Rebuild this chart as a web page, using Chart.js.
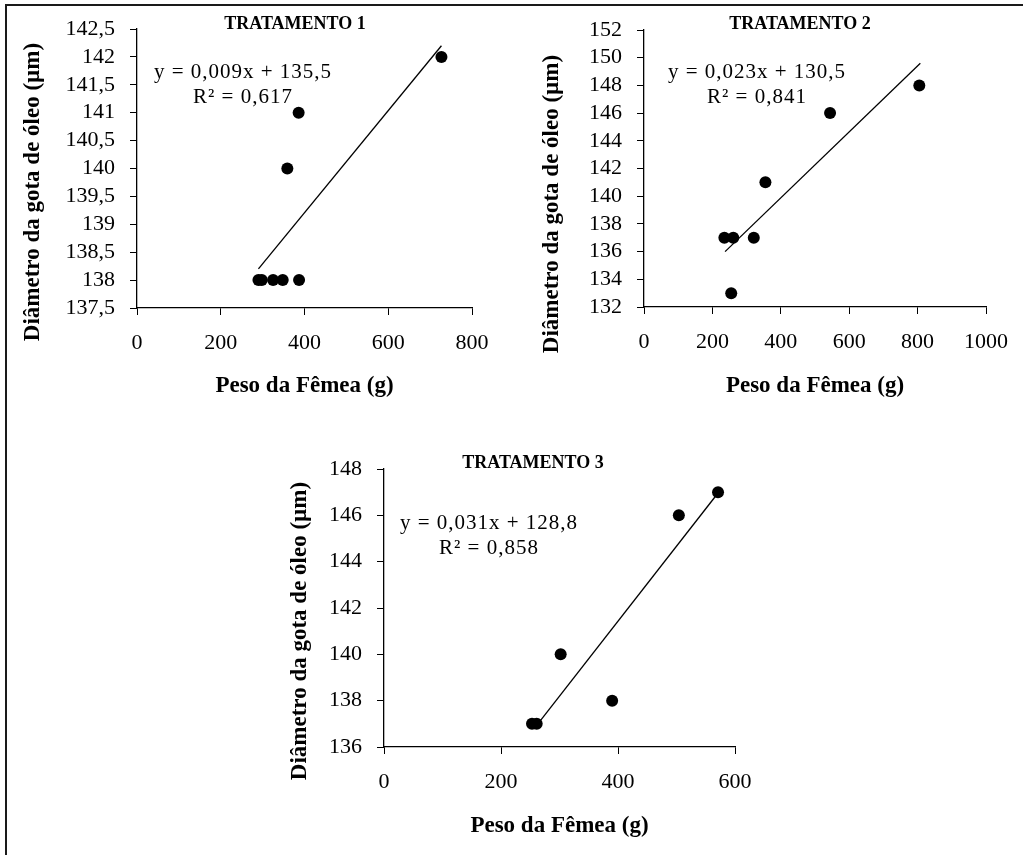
<!DOCTYPE html>
<html lang="pt">
<head>
<meta charset="UTF-8">
<title>Diâmetro da gota de óleo x Peso da Fêmea</title>
<script src="https://cdn.jsdelivr.net/npm/chart.js"></script>
<style>
    body { margin: 0; background: #fff; width: 1023px; height: 855px; overflow: hidden; position: relative; }
    .moldura { position: absolute; left: 5px; top: 4px; width: 1100px; height: 900px;
               border-left: 2px solid #1a1a1a; border-top: 2px solid #1a1a1a; }
    canvas { position: absolute; }
</style>
</head>
<body>
<div class="moldura"></div>
<canvas id="chart1" style="left:0;top:0" width="510" height="420"></canvas>
<canvas id="chart2" style="left:510px;top:0" width="513" height="420"></canvas>
<canvas id="chart3" style="left:200px;top:430px" width="600" height="425"></canvas>

<script>
    // Tratamento 1
    const peso1 = [290, 298, 325, 348, 387, 359, 386, 727];
    const diam1 = [138, 138, 138, 138, 138, 140, 141, 142];
    const tend1X = [290, 727];
    const tend1Y = [138.2, 142.2];
    const xTicks1 = [0, 200, 400, 600, 800];
    const yTicks1 = [137.5, 138, 138.5, 139, 139.5, 140, 140.5, 141, 141.5, 142, 142.5];

    // Tratamento 2
    const peso2 = [235, 261, 321, 255, 355, 544, 805];
    const diam2 = [137, 137, 137, 133, 141, 146, 148];
    const tend2X = [237, 808];
    const tend2Y = [136.0, 149.6];
    const xTicks2 = [0, 200, 400, 600, 800, 1000];
    const yTicks2 = [132, 134, 136, 138, 140, 142, 144, 146, 148, 150, 152];

    // Tratamento 3
    const peso3 = [253, 261, 302, 390, 504, 571];
    const diam3 = [137, 137, 140, 138, 146, 147];
    const tend3X = [263, 569];
    const tend3Y = [137.0, 146.9];
    const xTicks3 = [0, 200, 400, 600];
    const yTicks3 = [136, 138, 140, 142, 144, 146, 148];

    const serif = '"Liberation Serif", "Times New Roman", serif';
    const yTitulo = 'Diâmetro da gota de óleo (µm)';
    const xTitulo = 'Peso da Fêmea (g)';

    function virgula(v) {
        return String(v).replace('.', ',');
    }

    // textos soltos: titulo do grafico, equacao e titulo do eixo y
    function textPlugin(items) {
        return {
            id: 'textos',
            afterDraw(chart) {
                const ctx = chart.ctx;
                ctx.save();
                ctx.fillStyle = '#000';
                ctx.textAlign = 'center';
                ctx.textBaseline = 'middle';
                items.forEach(t => {
                    ctx.save();
                    ctx.font = t.font;
                    ctx.letterSpacing = t.spacing || '0px';
                    ctx.translate(t.x, t.y);
                    if (t.rot) ctx.rotate(t.rot);
                    ctx.fillText(t.text, 0, 0);
                    ctx.restore();
                });
                ctx.restore();
            }
        };
    }

    function drawChart(id, c) {
        const pontos = c.peso.map((x, i) => ({x: x, y: c.diam[i]}));
        const linha = c.tendX.map((x, i) => ({x: x, y: c.tendY[i]}));
        const tickFont = {family: serif, size: 22};
        const titleFont = {family: serif, size: 23, weight: 'bold'};

        return new Chart(document.getElementById(id), {
            type: 'scatter',
            data: {
                datasets: [{
                    data: pontos,
                    pointRadius: 6,
                    pointBackgroundColor: '#000',
                    pointBorderColor: '#000',
                    pointBorderWidth: 0,
                    clip: false
                }, {
                    type: 'line',
                    data: linha,
                    borderColor: '#000',
                    borderWidth: 1.3,
                    pointRadius: 0,
                    fill: false,
                    clip: false
                }]
            },
            options: {
                responsive: false,
                animation: false,
                events: [],
                layout: {padding: c.pad},
                plugins: {legend: {display: false}, tooltip: {enabled: false}},
                scales: {
                    x: {
                        type: 'linear',
                        min: c.xTicks[0],
                        max: c.xTicks[c.xTicks.length - 1],
                        afterBuildTicks: s => { s.ticks = c.xTicks.map(v => ({value: v})); },
                        afterFit: s => { s.height = c.xHeight; },
                        grid: {drawOnChartArea: false, color: '#000', tickLength: 7},
                        border: {color: '#000', width: 1.3},
                        ticks: {color: '#000', font: tickFont, padding: 15, maxRotation: 0,
                                autoSkip: false, callback: virgula},
                        title: {display: true, text: xTitulo, color: '#000', font: titleFont,
                                padding: {top: 0, bottom: c.xTitlePad}}
                    },
                    y: {
                        type: 'linear',
                        min: c.yTicks[0],
                        max: c.yTicks[c.yTicks.length - 1],
                        afterBuildTicks: s => { s.ticks = c.yTicks.map(v => ({value: v})); },
                        afterFit: s => { s.width = c.yWidth; },
                        grid: {drawOnChartArea: false, color: '#000', tickLength: 7},
                        border: {color: '#000', width: 1.3},
                        ticks: {color: '#000', font: tickFont, padding: 15, autoSkip: false, callback: virgula}
                    }
                }
            },
            plugins: [textPlugin([
                {text: c.titulo, x: c.tituloPos[0], y: c.tituloPos[1], font: 'bold 18px ' + serif},
                {text: c.eq, x: c.eqPos[0], y: c.eqPos[1], font: '21px ' + serif, spacing: '1px'},
                {text: c.r2, x: c.eqPos[0], y: c.eqPos[1] + 25, font: '21px ' + serif, spacing: '1px'},
                {text: yTitulo, x: c.yTitlePos[0], y: c.yTitlePos[1], rot: -Math.PI / 2, font: 'bold 23px ' + serif}
            ])]
        });
    }

    drawChart('chart1', {
        peso: peso1, diam: diam1, tendX: tend1X, tendY: tend1Y, xTicks: xTicks1, yTicks: yTicks1,
        pad: {top: 29, right: 38, left: 0, bottom: 0}, yWidth: 137, xHeight: 112, xTitlePad: 20,
        titulo: 'TRATAMENTO 1', tituloPos: [295, 24],
        eq: 'y = 0,009x + 135,5', r2: 'R² = 0,617', eqPos: [243, 72],
        yTitlePos: [33, 192]
    });

    drawChart('chart2', {
        peso: peso2, diam: diam2, tendX: tend2X, tendY: tend2Y, xTicks: xTicks2, yTicks: yTicks2,
        pad: {top: 30, right: 30, left: 0, bottom: 0}, yWidth: 134, xHeight: 113, xTitlePad: 20,
        titulo: 'TRATAMENTO 2', tituloPos: [290, 24],
        eq: 'y = 0,023x + 130,5', r2: 'R² = 0,841', eqPos: [247, 72],
        yTitlePos: [42, 204]
    });

    drawChart('chart3', {
        peso: peso3, diam: diam3, tendX: tend3X, tendY: tend3Y, xTicks: xTicks3, yTicks: yTicks3,
        pad: {top: 39, right: 65, left: 0, bottom: 0}, yWidth: 184, xHeight: 108, xTitlePad: 15,
        titulo: 'TRATAMENTO 3', tituloPos: [333, 33],
        eq: 'y = 0,031x + 128,8', r2: 'R² = 0,858', eqPos: [289, 93],
        yTitlePos: [100, 201]
    });
</script>
</body>
</html>
